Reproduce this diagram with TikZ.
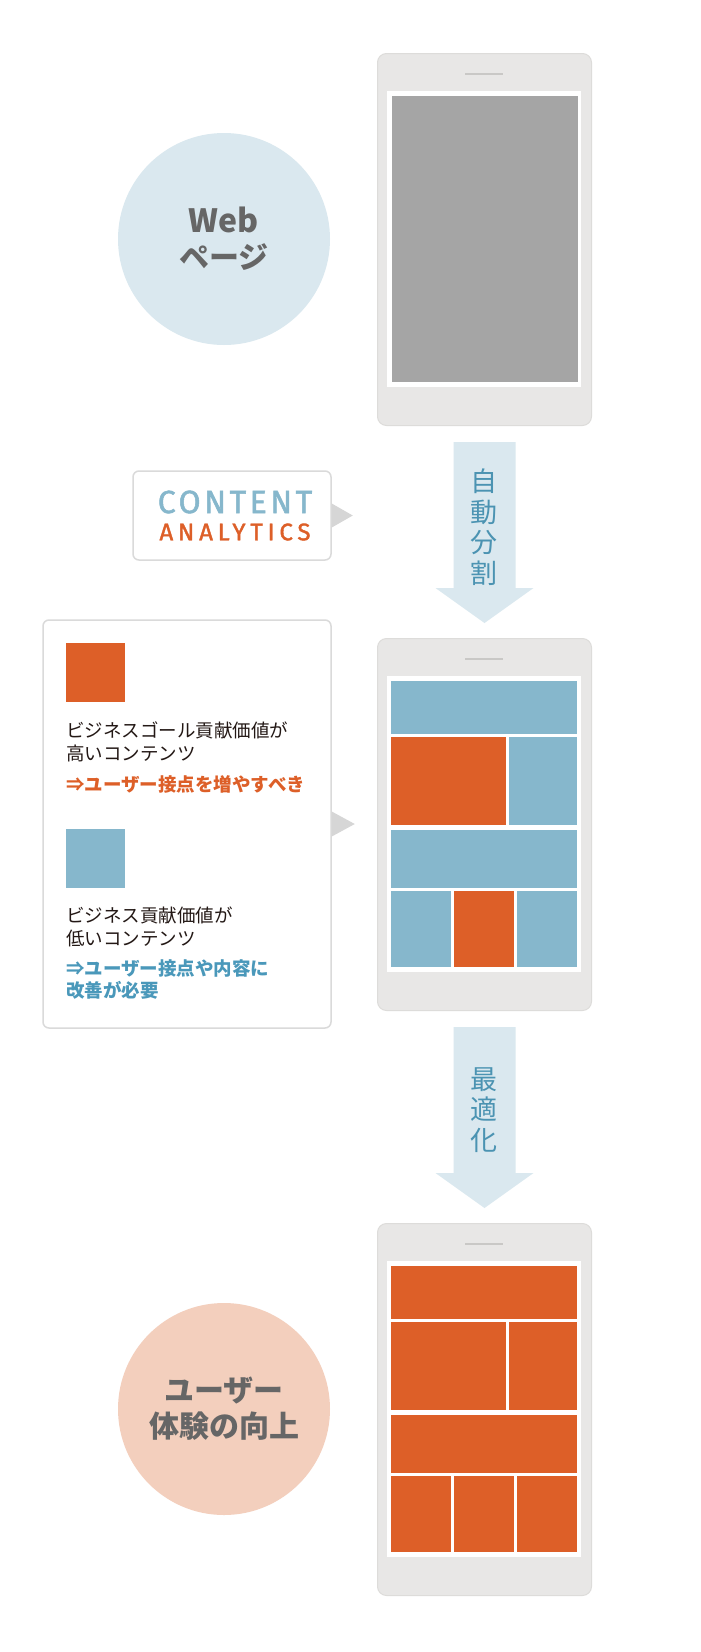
\documentclass[tikz,border=0pt]{standalone}
\usepackage{fontspec}
\setmainfont{Noto Sans CJK JP}
\newfontfamily\dinfont[FakeBold=1.6]{Fira Sans}
\usetikzlibrary{calc}
\definecolor{lightblue}{HTML}{DAE8EF}
\definecolor{peach}{HTML}{F3CFBD}
\definecolor{cblue}{HTML}{86B7CC}
\definecolor{corange}{HTML}{DD5F28}
\definecolor{screengray}{HTML}{A5A5A5}
\definecolor{phonegray}{HTML}{E8E7E6}
\definecolor{phoneline}{HTML}{DDDCDA}
\definecolor{speaker}{HTML}{C9C8C6}
\definecolor{arrowtext}{HTML}{4B93B2}
\definecolor{circletext}{HTML}{666666}
\definecolor{boxline}{HTML}{DADADA}
\definecolor{pointer}{HTML}{D6D6D6}
\definecolor{legblue}{HTML}{4A98BA}
\definecolor{legtext}{HTML}{231815}
\tikzset{
  phone/.style={fill=phonegray,draw=phoneline,line width=1pt,rounded corners=9pt,
    minimum width=214pt,minimum height=372pt,anchor=north west,inner sep=0},
  bubble/.style={circle,minimum size=212pt,inner sep=0,align=center,text=circletext,
    font=\bfseries\fontsize{30}{36}\selectfont},
  infobox/.style={draw=boxline,line width=1.5pt,fill=white,rounded corners=6pt,inner sep=0},
  arrowlabel/.style={align=center,text=arrowtext,inner sep=0,font=\fontsize{27}{30.5}\selectfont},
  legsq/.style={minimum size=59pt,inner sep=0,anchor=north west},
  legline/.style={anchor=west,align=left,inner sep=0,text=legtext,font=\fontsize{18.5}{23}\selectfont},
  bigarrow/.pic={\fill[lightblue] (-31,0) -- (31,0) -- (31,146) -- (49,146) -- (0,181)
    -- (-49,146) -- (-31,146) -- cycle;}
}
\begin{document}
\begin{tikzpicture}[x=1pt,y=-1pt]
\useasboundingbox (0,0) rectangle (701,1652);
\fill[white] (0,0) rectangle (701,1652);

\foreach \t/\n in {53/p1,638/p2,1223/p3}{
  \node[phone] (\n) at (377,\t) {};
  \draw[line width=1.5pt,draw=speaker] (465,\t+21) -- (503,\t+21);
  \fill[white] (387,\t+38) rectangle (581,\t+334);
}
\fill[screengray] (392,96) rectangle (578,382);
\foreach \a/\b/\c/\d/\col in {391/5/577/58/cblue, 391/61/506/149/corange, 509/61/577/149/cblue,
    391/154/577/212/cblue, 391/215/451/291/cblue, 454/215/514/291/corange, 517/215/577/291/cblue}{
  \fill[\col] (\a,676+\b) rectangle (\c,676+\d);
  \fill[corange] (\a,1261+\b) rectangle (\c,1261+\d);
}

\node[bubble,fill=lightblue] (web) at (224,239) {{\fontsize{32}{36}\selectfont Web}\\ページ};
\node[bubble,fill=peach] (ux) at (224,1409) {ユーザー\\体験の向上};

\pic at ($(p1.south)+(0,16)$) {bigarrow};
\pic at ($(p2.south)+(0,16)$) {bigarrow};
\node[arrowlabel] (split) at (484,527) {自\\動\\分\\割};
\node[arrowlabel] (opt) at (484,1110) {最\\適\\化};

\node[infobox,minimum width=198pt,minimum height=89pt] (ca) at (232,515.5) {};
\fill[pointer] ($(ca.east)+(0,-12)$) -- ($(ca.east)+(21,0)$) -- ($(ca.east)+(0,12)$) -- cycle;
\node[inner sep=0,text=cblue,font=\dinfont\fontsize{32}{32}\selectfont\addfontfeature{LetterSpace=11}] (content) at (235,502) {CONTENT};
\node[inner sep=0,text=corange,font=\dinfont\fontsize{24}{24}\selectfont\addfontfeature{LetterSpace=20}] (analytics) at (235,532) {ANALYTICS};

\node[infobox,minimum width=288pt,minimum height=408pt] (legend) at (187,824) {};
\fill[pointer] ($(legend.east)+(0,-12.5)$) -- ($(legend.east)+(23,0)$) -- ($(legend.east)+(0,12.5)$) -- cycle;
\node[legsq,fill=corange] (sqhigh) at (66,643) {};
\node[legline] (hightxt) at (66,741.5) {ビジネスゴール貢献価値が\\高いコンテンツ};
\node[legline,text=corange,font=\bfseries\fontsize{18.5}{23}\selectfont] (highact) at (66,784) {⇒ユーザー接点を増やすべき};
\node[legsq,fill=cblue] (sqlow) at (66,829) {};
\node[legline] (lowtxt) at (66,926.5) {ビジネス貢献価値が\\低いコンテンツ};
\node[legline,text=legblue,font=\bfseries\fontsize{18.5}{22}\selectfont] (lowact) at (66,979) {⇒ユーザー接点や内容に\\改善が必要};
\end{tikzpicture}
\end{document}
